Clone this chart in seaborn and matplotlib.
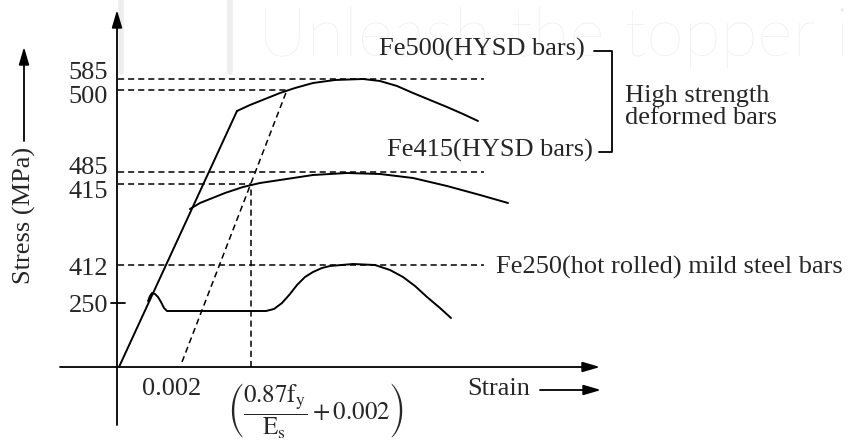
import matplotlib
matplotlib.use("Agg")
import matplotlib.pyplot as plt
import seaborn as sns

# schematic stress-strain sketch, coordinates
# (x to the right, y downward, same units as the 848x441 picture)

# elastic branch shared by all the bars
elastic_x = [119, 237]
elastic_y = [367, 111]

# Fe500 HYSD
fe500_x = [237, 250, 265, 280, 295, 313, 335, 363, 380, 397, 413, 430, 447, 463, 478]
fe500_y = [111, 105, 99, 93, 88, 83, 80, 79, 81, 86, 93, 100, 107, 114, 121]

# Fe415 HYSD
fe415_x = [190, 200, 210, 225, 243, 260, 280, 313, 347, 380, 413, 447, 480, 508]
fe415_y = [209, 203, 199, 193, 187, 183, 180, 175, 173, 174, 178, 186, 195, 203]

# Fe250 mild steel (yield hump, plateau, hardening, necking)
fe250_x = [148, 150, 152, 155, 158, 161, 164, 167, 266, 274, 282, 290, 297, 305,
           313, 322, 330, 353, 375, 390, 403, 415, 427, 440, 451]
fe250_y = [301, 296, 293, 294, 297, 302, 308, 311, 311, 309, 303, 294, 285, 277,
           272, 268, 266, 264, 265, 270, 277, 286, 297, 308, 318]

# stress levels marked on the axis
stress_labels = ["585", "500", "485", "415", "412", "250"]
label_y = [73, 97, 168, 192, 269, 306]
guide_y = [79, 90, 172, 184, 265]
guide_end = [484, 287, 484, 251, 484]

# 0.2 % proof-stress offset line and its strain marker
offset_x = [182, 287]
offset_y = [362, 90]
proof_x = 251
proof_y = 184

sns.set_theme(style="white")
plt.rcParams["font.family"] = ["Liberation Serif", "DejaVu Serif"]
plt.rcParams["mathtext.fontset"] = "stix"

fig = plt.figure(figsize=(8.48, 4.41), dpi=100, facecolor="white")
ax = fig.add_axes([0, 0, 1, 1])
ax.set_xlim(0, 848)
ax.set_ylim(441, 0)
ax.axis("off")

# faint watermark
wm = "#eeeeee"
ax.plot([121, 121], [0, 72], color=wm, lw=4, solid_capstyle="round", zorder=0)
ax.plot([230, 230], [0, 72], color=wm, lw=4, solid_capstyle="round", zorder=0)
ax.text(258, 38, "Unleash the topper i", fontsize=49, color=wm,
        family=["Lato", "DejaVu Sans"], fontweight="light", va="center", ha="left", zorder=0)

lw = 1.4
dash = (0, (4, 2.6))

# guide lines
for yy, xe in zip(guide_y, guide_end):
    ax.plot([118, xe], [yy, yy], color="black", lw=1.1, linestyle=dash, zorder=2)
ax.plot([proof_x, proof_x], [367, proof_y], color="black", lw=1.1, linestyle=dash, zorder=2)
ax.plot(offset_x, offset_y, color="black", lw=1.1, linestyle=dash, zorder=2)

# curves
for xs, ys in [(elastic_x, elastic_y), (fe500_x, fe500_y), (fe415_x, fe415_y), (fe250_x, fe250_y)]:
    sns.lineplot(x=xs, y=ys, sort=False, estimator=None, color="black", lw=lw, ax=ax, zorder=3)

# axes with arrow heads
arrow = dict(arrowstyle="-|>,head_width=0.22,head_length=0.75", color="black",
             lw=1.3, mutation_scale=14, shrinkA=0, shrinkB=0)
ax.annotate("", xy=(117, 10), xytext=(117, 425), arrowprops=arrow)
ax.annotate("", xy=(600, 367), xytext=(60, 367), arrowprops=arrow)
ax.annotate("", xy=(601, 390), xytext=(540, 390), arrowprops=arrow)
ax.annotate("", xy=(24, 47), xytext=(24, 141), arrowprops=arrow)
ax.plot([111, 125], [303, 303], color="black", lw=1.3)

fs = 19
for lab, yy in zip(stress_labels, label_y):
    ax.text(108, yy, lab, fontsize=fs, ha="right", va="center")

ax.text(24, 215, "Stress (MPa)", fontsize=fs, rotation=90, ha="center", va="center")
ax.text(172, 389, "0.002", fontsize=fs, ha="center", va="center")
ax.text(467, 389, "Strain", fontsize=fs, ha="left", va="center")
ax.text(315, 411, r"$\left(\dfrac{0.87\mathrm{f}_{\mathrm{y}}}{\mathrm{E}_{\mathrm{s}}}+0.002\right)$",
        fontsize=18, ha="center", va="center")

# bar names
ax.text(585, 49, "Fe500(HYSD bars)", fontsize=fs, ha="right", va="center")
ax.text(593, 150, "Fe415(HYSD bars)", fontsize=fs, ha="right", va="center")
ax.plot([594, 612, 612, 599], [51, 51, 152, 152], color="black", lw=1.3)
ax.text(625, 107, "High strength\ndeformed bars", fontsize=fs, ha="left", va="center",
        linespacing=1.05)
ax.text(496, 267, "Fe250(hot rolled) mild steel bars", fontsize=fs, ha="left", va="center")

fig.savefig("out.png", dpi=100, facecolor="white")
